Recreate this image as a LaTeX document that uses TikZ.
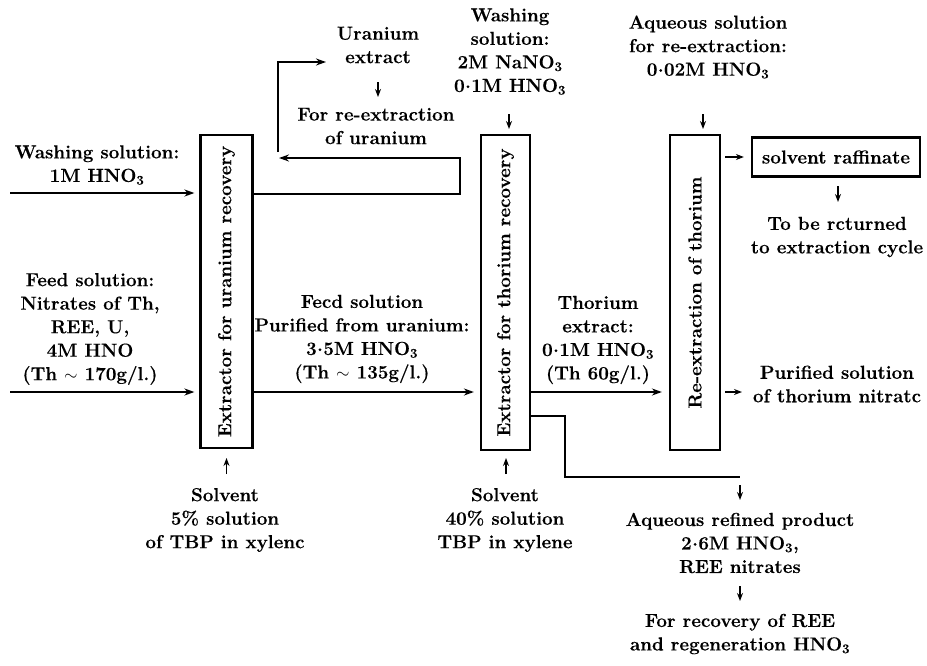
\documentclass[tikz,border=0pt]{standalone}
\usepackage{fontspec}
\setmainfont{lmroman10-regular.otf}[BoldFont=lmroman12-bold.otf, BoldFeatures={FakeBold=0.3}]
\usetikzlibrary{arrows.meta,calc}
% raised decimal point, as in 0.1M
\newcommand\md{\kern0.02em\raisebox{0.2em}{.}\kern0.02em}
\begin{document}
\begin{tikzpicture}[x=1pt,y=-1pt,
  every node/.style={font=\fontsize{18.8}{23.5}\selectfont\bfseries, inner sep=0pt, align=center},
  unit/.style={draw, line width=2.2pt},
  flow/.style={line width=2.2pt, -{Stealth[length=10pt,width=7pt]}},
  pipe/.style={line width=2.2pt},
  tick/.style={line width=1.7pt, -{Stealth[length=8pt,width=6pt]}},
]
\useasboundingbox (0,0) rectangle (927,665);

% extraction units
\node[unit, minimum width=52pt, minimum height=313pt] (extU) at (226.5,291.5) {};
\node[rotate=90] (extUt) at (extU) {Extractor for uranium recovery};
\node[unit, minimum width=49pt, minimum height=315pt] (extT) at (505.5,292.5) {};
\node[rotate=90] (extTt) at (extT) {Extractor for thorium recovery};
\node[unit, minimum width=50pt, minimum height=315pt] (extR) at (695,292.5) {};
\node[rotate=90] (extRt) at (extR) {Re-extraction of thorium};
\node[unit, minimum width=168pt, minimum height=39pt] (raff) at (836,157) {solvent raffinate};

% stream labels
\node (wash1) at (97,165) {Washing solution:\\1M HNO\textsubscript{3}};
\node (feed) at (90,329) {Feed solution:\\Nitrates of Th,\\REE, U,\\4M HNO\\(Th $\sim$ 170g/l.)};
\node (feed2) at (362,339) {Fecd solution\\Purified from uranium:\\3\md5M HNO\textsubscript{3}\\(Th $\sim$ 135g/l.)};
\node (thext) at (598,340) {Thorium\\extract:\\0\md1M HNO\textsubscript{3}\\(Th 60g/l.)};
\node (uext) at (378,45) {Uranium\\extract};
\node (ufor) at (376,126) {For re-extraction\\of uranium};
\node (wash2) at (510,51.5) {Washing\\solution:\\2M NaNO\textsubscript{3}\\0\md1M HNO\textsubscript{3}};
\node (aq) at (708,47) {Aqueous solution\\for re-extraction:\\0\md02M HNO\textsubscript{3}};
\node (ret) at (837,237) {To be rcturned\\to extraction cycle};
\node (pur) at (837,384) {Purified solution\\of thorium nitratc};
\node (solv1) at (225,520) {Solvent\\5\% solution\\of TBP in xylenc};
\node (solv2) at (505,520) {Solvent\\40\% solution\\TBP in xylene};
\node (aqref) at (740,543) {Aqueous refined product\\2\md6M HNO\textsubscript{3},\\REE nitrates};
\node (recov) at (740,634) {For recovery of REE\\and regeneration HNO\textsubscript{3}};

% free ends of the stream lines
\coordinate (w1) at (10,193);
\coordinate (f1) at (10,392);
\coordinate (lpR) at (460,194);
\coordinate (lpT) at (460,158);
\coordinate (lpL) at (279,158);
\coordinate (upB) at (278,152);
\coordinate (upT) at (278,62);
\coordinate (upE) at (326,62);
\coordinate (thA) at (565,416);
\coordinate (thB) at (565,477);
\coordinate (thC) at (740,477);

% main streams
\draw[flow, shorten >=5pt] (w1) -- (extU.west |- w1);
\draw[flow, shorten >=5pt] (f1) -- (extU.west |- f1);
\draw[flow, shorten >=6pt] (extU.east |- f1) -- (extT.west |- f1);
\draw[flow, shorten >=7pt] (extT.east |- f1) -- (extR.west |- f1);
\draw[flow] (extU.east |- lpR) -- (lpR) -- (lpT) -- (lpL);
\draw[flow] (upB) -- (upT) -- (upE);
\draw[pipe] (extT.east |- thA) -- (thA) -- (thB) -- (thC);

% short feed and product arrows
\draw[tick, shorten <=4pt, shorten >=7pt] (extR.east |- raff.west) -- (raff.west);
\draw[tick, shorten <=4pt] (extR.east |- f1) -- (742,392);
\draw[tick] (378,82) -- (378,97);
\draw[tick] (509,114) -- (509,129);
\draw[tick] (703,114) -- (703,129);
\draw[tick] (838,186) -- (838,202);
\draw[tick] (extU.south |- 0,474) -- (extU.south |- 0,458);
\draw[tick] (506,474) -- (506,458);
\draw[tick] (740,485) -- (740,500);
\draw[tick] (740,586) -- (740,601);
\end{tikzpicture}
\end{document}
